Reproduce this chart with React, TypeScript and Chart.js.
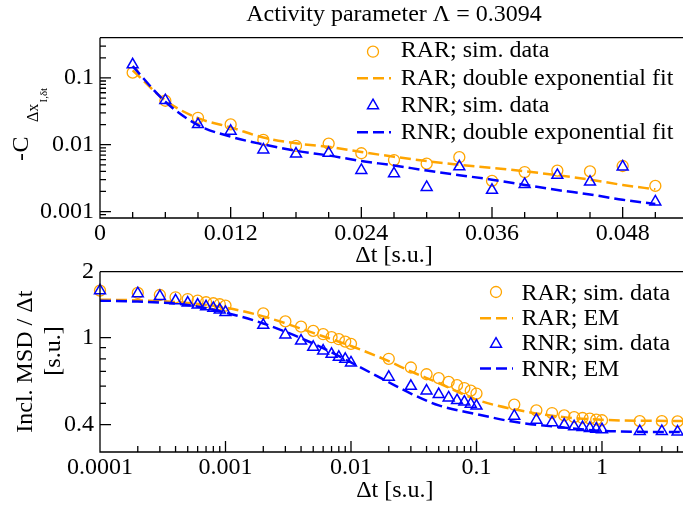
import React, { useEffect, useRef } from "react";
import { Chart, registerables } from "chart.js";

Chart.register(...registerables);

const FONT = "'Liberation Serif', 'Times New Roman', Times, serif";
const ORANGE = "#FFA500";
const BLUE = "#0000FF";

// ---------- top panel data ----------
const dtTop = [0.003, 0.006, 0.009, 0.012, 0.015, 0.018, 0.021, 0.024, 0.027, 0.03, 0.033, 0.036, 0.039, 0.042, 0.045, 0.048, 0.051];
const rarSimTop = [0.12, 0.0455, 0.0253, 0.0201, 0.0118, 0.0096, 0.0104, 0.00745, 0.0059, 0.0052, 0.0065, 0.00287, 0.0039, 0.0041, 0.004, 0.0048, 0.00242];
const rnrSimTop = [0.158, 0.046, 0.0201, 0.016, 0.0084, 0.0073, 0.0075, 0.00415, 0.0037, 0.00231, 0.0047, 0.00209, 0.00256, 0.0035, 0.00277, 0.00468, 0.0014];
const rarFitTop = [0.13, 0.046, 0.025, 0.0182, 0.0128, 0.0105, 0.0093, 0.0078, 0.0066, 0.0057, 0.005, 0.0045, 0.004, 0.0035, 0.003, 0.0025, 0.00215];
const rnrFitTop = [0.15, 0.044, 0.0197, 0.0132, 0.0101, 0.0081, 0.0069, 0.0057, 0.0049, 0.0041, 0.0035, 0.003, 0.0025, 0.0021, 0.0018, 0.0015, 0.0013];

const xMajorTop = [0, 0.012, 0.024, 0.036, 0.048];
const xLabelsTop = ["0", "0.012", "0.024", "0.036", "0.048"];
const xMinorTop = [0.003, 0.006, 0.009, 0.015, 0.018, 0.021, 0.027, 0.03, 0.033, 0.039, 0.042, 0.045, 0.051];
const yMajorTop = [0.001, 0.01, 0.1];
const yLabelsTop = ["0.001", "0.01", "0.1"];
const yMinorTop = [0.0009, 0.002, 0.003, 0.004, 0.005, 0.006, 0.007, 0.008, 0.009, 0.02, 0.03, 0.04, 0.05, 0.06, 0.07, 0.08, 0.09, 0.2, 0.3];

// ---------- bottom panel data ----------
const dtBottom = [
  0.0001, 0.0002, 0.0003, 0.0004, 0.0005, 0.0006, 0.0007, 0.0008, 0.0009, 0.001,
  0.002, 0.003, 0.004, 0.005, 0.006, 0.007, 0.008, 0.009, 0.01,
  0.02, 0.03, 0.04, 0.05, 0.06, 0.07, 0.08, 0.09, 0.1,
  0.2, 0.3, 0.4, 0.5, 0.6, 0.7, 0.8, 0.9, 1,
  2, 3, 4,
];
const rarSimBottom = [
  1.64, 1.6, 1.565, 1.528, 1.5, 1.475, 1.45, 1.435, 1.42, 1.4,
  1.29, 1.185, 1.122, 1.073, 1.036, 1.004, 0.983, 0.959, 0.936,
  0.8, 0.73, 0.68, 0.653, 0.627, 0.606, 0.588, 0.572, 0.555,
  0.494, 0.465, 0.452, 0.441, 0.433, 0.429, 0.426, 0.422, 0.419,
  0.415, 0.415, 0.414,
];
const rnrSimBottom = [
  1.64, 1.59, 1.545, 1.475, 1.44, 1.41, 1.385, 1.362, 1.338, 1.305,
  1.14, 1.03, 0.966, 0.904, 0.87, 0.84, 0.814, 0.797, 0.767,
  0.66, 0.6, 0.571, 0.55, 0.531, 0.516, 0.508, 0.497, 0.487,
  0.438, 0.42, 0.409, 0.399, 0.392, 0.389, 0.385, 0.382, 0.38,
  0.373, 0.373, 0.371,
];
const dtEM = [0.0001, 0.0002, 0.0005, 0.001, 0.002, 0.005, 0.01, 0.02, 0.03, 0.05, 0.1, 0.2, 0.5, 1, 2, 5];
const rarEM = [1.49, 1.48, 1.44, 1.37, 1.25, 1.05, 0.915, 0.78, 0.7, 0.62, 0.52, 0.47, 0.433, 0.421, 0.417, 0.416];
const rnrEM = [1.475, 1.46, 1.41, 1.3, 1.16, 0.94, 0.77, 0.625, 0.555, 0.49, 0.447, 0.412, 0.388, 0.375, 0.371, 0.37];

const xMajorBottom = [0.0001, 0.001, 0.01, 0.1, 1];
const xLabelsBottom = ["0.0001", "0.001", "0.01", "0.1", "1"];
const xMinorBottom = [
  0.0002, 0.0003, 0.0004, 0.0005, 0.0006, 0.0007, 0.0008, 0.0009,
  0.002, 0.003, 0.004, 0.005, 0.006, 0.007, 0.008, 0.009,
  0.02, 0.03, 0.04, 0.05, 0.06, 0.07, 0.08, 0.09,
  0.2, 0.3, 0.4, 0.5, 0.6, 0.7, 0.8, 0.9,
  2, 3, 4,
];
const yMajorBottom = [0.4, 1, 2];
const yLabelsBottom = ["0.4", "1", "2"];
const yMinorBottom = [0.5, 0.6, 0.7, 0.8, 0.9];

const DASH = [11, 5];

function pts(xs: number[], ys: number[]) {
  return xs.map((x, i) => ({ x, y: ys[i] }));
}

function labelFor(v: number, majors: number[], labels: string[], log: boolean) {
  for (let i = 0; i < majors.length; i++) {
    const m = majors[i];
    if (log ? Math.abs(Math.log10(v) - Math.log10(m)) < 1e-6 : Math.abs(v - m) < 1e-9) return labels[i];
  }
  return "";
}

function drawTri(ctx: CanvasRenderingContext2D, x: number, y: number, r: number) {
  ctx.beginPath();
  ctx.moveTo(x, y - r);
  ctx.lineTo(x + Math.sin((2 * Math.PI) / 3) * r, y + r / 2);
  ctx.lineTo(x - Math.sin((2 * Math.PI) / 3) * r, y + r / 2);
  ctx.closePath();
  ctx.stroke();
}

function drawRot(ctx: CanvasRenderingContext2D, text: string, X: number, Y: number, size: number, align: CanvasTextAlign, baseline: CanvasTextBaseline) {
  ctx.save();
  ctx.rotate(-Math.PI / 2);
  ctx.font = `${size}px ${FONT}`;
  ctx.textAlign = align;
  ctx.textBaseline = baseline;
  ctx.fillText(text, -Y, X);
  ctx.restore();
}

type LegendEntry = { kind: "circle" | "triangle" | "line"; color: string; text: string; y: number; ty: number };

function drawLegend(ctx: CanvasRenderingContext2D, entries: LegendEntry[], symX: number, l0: number, l1: number, textX: number, offY: number) {
  entries.forEach((e) => {
    ctx.save();
    ctx.strokeStyle = e.color;
    if (e.kind === "circle") {
      ctx.lineWidth = 1.3;
      ctx.beginPath();
      ctx.arc(symX, e.y - offY, 5.5, 0, Math.PI * 2);
      ctx.stroke();
    } else if (e.kind === "triangle") {
      ctx.lineWidth = 1.5;
      drawTri(ctx, symX, e.y - offY, 6.3);
    } else {
      ctx.lineWidth = 2.5;
      ctx.setLineDash(DASH);
      ctx.beginPath();
      ctx.moveTo(l0, e.y - offY);
      ctx.lineTo(l1, e.y - offY);
      ctx.stroke();
    }
    ctx.restore();
    ctx.save();
    ctx.fillStyle = "#000";
    ctx.font = `24px ${FONT}`;
    ctx.textAlign = "left";
    ctx.textBaseline = "alphabetic";
    ctx.fillText(e.text, textX, e.ty - offY);
    ctx.restore();
  });
}

function decoPlugin(
  xMajor: number[], xMinor: number[], yMajor: number[], yMinor: number[],
  extra: (ctx: CanvasRenderingContext2D, chart: any) => void
) {
  return {
    id: "deco",
    afterDraw(chart: any) {
      const ctx: CanvasRenderingContext2D = chart.ctx;
      const { left, right, top, bottom } = chart.chartArea;
      const xs = chart.scales.x;
      const ys = chart.scales.y;
      ctx.save();
      ctx.strokeStyle = "#000";
      ctx.lineWidth = 1.3;
      ctx.setLineDash([]);
      ctx.beginPath();
      ctx.moveTo(left, top);
      ctx.lineTo(right, top);
      ctx.moveTo(left, top);
      ctx.lineTo(left, bottom);
      ctx.lineTo(right, bottom);
      xMajor.forEach((v) => {
        const p = xs.getPixelForValue(v);
        ctx.moveTo(p, bottom);
        ctx.lineTo(p, bottom - 11);
      });
      xMinor.forEach((v) => {
        const p = xs.getPixelForValue(v);
        ctx.moveTo(p, bottom);
        ctx.lineTo(p, bottom - 6);
      });
      yMajor.forEach((v) => {
        const p = ys.getPixelForValue(v);
        ctx.moveTo(left, p);
        ctx.lineTo(left + 11, p);
      });
      yMinor.forEach((v) => {
        const p = ys.getPixelForValue(v);
        ctx.moveTo(left, p);
        ctx.lineTo(left + 6, p);
      });
      ctx.stroke();
      ctx.restore();
      ctx.save();
      ctx.fillStyle = "#000";
      extra(ctx, chart);
      ctx.restore();
    },
  };
}

const tickFont = { family: FONT, size: 24 };

function simSet(label: string, xs: number[], ys: number[], color: string, style: "circle" | "triangle", order: number) {
  return {
    label,
    data: pts(xs, ys),
    showLine: false,
    borderColor: color,
    backgroundColor: "rgba(0,0,0,0)",
    pointStyle: style,
    pointRadius: style === "circle" ? 5.5 : 6.3,
    pointBorderWidth: style === "circle" ? 1.3 : 1.5,
    pointBorderColor: color,
    pointBackgroundColor: "rgba(0,0,0,0)",
    clip: false,
    order,
  };
}

function lineSet(label: string, xs: number[], ys: number[], color: string, order: number) {
  return {
    label,
    data: pts(xs, ys),
    borderColor: color,
    borderWidth: 2.5,
    borderDash: DASH,
    pointRadius: 0,
    fill: false,
    cubicInterpolationMode: "monotone",
    clip: false,
    order,
  };
}

function topConfig(): any {
  return {
    type: "line",
    data: {
      datasets: [
        simSet("RAR; sim. data", dtTop, rarSimTop, ORANGE, "circle", 4),
        lineSet("RAR; double exponential fit", dtTop, rarFitTop, ORANGE, 3),
        simSet("RNR; sim. data", dtTop, rnrSimTop, BLUE, "triangle", 2),
        lineSet("RNR; double exponential fit", dtTop, rnrFitTop, BLUE, 1),
      ],
    },
    options: {
      animation: false,
      responsive: true,
      maintainAspectRatio: false,
      devicePixelRatio: 1,
      layout: { padding: { top: 37.7, right: 12, left: 0, bottom: 0 } },
      plugins: { legend: { display: false }, tooltip: { enabled: false }, title: { display: false } },
      scales: {
        x: {
          type: "linear",
          min: 0,
          max: 0.054,
          grid: { display: false, drawTicks: false },
          border: { display: false },
          ticks: {
            font: tickFont,
            color: "#000",
            padding: 1,
            autoSkip: false,
            maxRotation: 0,
            callback: (v: number) => labelFor(v, xMajorTop, xLabelsTop, false),
          },
          afterBuildTicks: (s: any) => {
            s.ticks = xMajorTop.map((v) => ({ value: v }));
          },
          afterFit: (s: any) => {
            s.height = 54;
            s.paddingLeft = 0;
            s.paddingRight = 0;
          },
        },
        y: {
          type: "logarithmic",
          min: 0.0008,
          max: 0.4,
          grid: { display: false, drawTicks: false },
          border: { display: false },
          ticks: {
            font: tickFont,
            color: "#000",
            padding: 6,
            autoSkip: false,
            callback: (v: number) => labelFor(v, yMajorTop, yLabelsTop, true),
          },
          afterBuildTicks: (s: any) => {
            s.ticks = yMajorTop.map((v) => ({ value: v }));
          },
          afterFit: (s: any) => {
            s.width = 100;
            s.paddingTop = 0;
            s.paddingBottom = 0;
          },
        },
      },
    },
    plugins: [
      decoPlugin(xMajorTop, xMinorTop, yMajorTop, yMinorTop, (ctx, chart) => {
        const { left, right } = chart.chartArea;
        const cx = (left + right) / 2;
        ctx.font = `24px ${FONT}`;
        ctx.textAlign = "center";
        ctx.textBaseline = "alphabetic";
        ctx.fillText("Activity parameter \u039B = 0.3094", cx, 20.7);
        ctx.fillText("\u0394t [s.u.]", cx, 261.5);
        // y title: - C_{Δx_{I,δt}}
        drawRot(ctx, "-", 28, 161, 24, "left", "alphabetic");
        drawRot(ctx, "C", 28, 152.5, 24, "left", "alphabetic");
        drawRot(ctx, "\u0394x", 38, 122, 16, "left", "alphabetic");
        drawRot(ctx, "I,\u03B4t", 47, 102.5, 11, "left", "alphabetic");
        drawLegend(
          ctx,
          [
            { kind: "circle", color: ORANGE, text: "RAR; sim. data", y: 51.7, ty: 57.3 },
            { kind: "line", color: ORANGE, text: "RAR; double exponential fit", y: 78.3, ty: 84.5 },
            { kind: "triangle", color: BLUE, text: "RNR; sim. data", y: 105.5, ty: 111.7 },
            { kind: "line", color: BLUE, text: "RNR; double exponential fit", y: 132.3, ty: 139 },
          ],
          373,
          357,
          391,
          400.7,
          0
        );
      }),
    ],
  };
}

function bottomConfig(): any {
  const OFF = 260;
  return {
    type: "line",
    data: {
      datasets: [
        simSet("RAR; sim. data", dtBottom, rarSimBottom, ORANGE, "circle", 4),
        lineSet("RAR; EM", dtEM, rarEM, ORANGE, 3),
        simSet("RNR; sim. data", dtBottom, rnrSimBottom, BLUE, "triangle", 2),
        lineSet("RNR; EM", dtEM, rnrEM, BLUE, 1),
      ],
    },
    options: {
      animation: false,
      responsive: true,
      maintainAspectRatio: false,
      devicePixelRatio: 1,
      layout: { padding: { top: 271.7 - OFF, right: 10.3, left: 0, bottom: 0 } },
      plugins: { legend: { display: false }, tooltip: { enabled: false }, title: { display: false } },
      scales: {
        x: {
          type: "logarithmic",
          min: 0.0001,
          max: 5,
          grid: { display: false, drawTicks: false },
          border: { display: false },
          ticks: {
            font: tickFont,
            color: "#000",
            padding: 1,
            autoSkip: false,
            maxRotation: 0,
            callback: (v: number) => labelFor(v, xMajorBottom, xLabelsBottom, true),
          },
          afterBuildTicks: (s: any) => {
            s.ticks = xMajorBottom.map((v) => ({ value: v }));
          },
          afterFit: (s: any) => {
            s.height = 246 - (452 - OFF);
            s.paddingLeft = 0;
            s.paddingRight = 0;
          },
        },
        y: {
          type: "logarithmic",
          min: 0.3,
          max: 2,
          grid: { display: false, drawTicks: false },
          border: { display: false },
          ticks: {
            font: tickFont,
            color: "#000",
            padding: 6,
            autoSkip: false,
            callback: (v: number) => labelFor(v, yMajorBottom, yLabelsBottom, true),
          },
          afterBuildTicks: (s: any) => {
            s.ticks = yMajorBottom.map((v) => ({ value: v }));
          },
          afterFit: (s: any) => {
            s.width = 100;
            s.paddingTop = 0;
            s.paddingBottom = 0;
          },
        },
      },
    },
    plugins: [
      decoPlugin(xMajorBottom, xMinorBottom, yMajorBottom, yMinorBottom, (ctx, chart) => {
        const { left, right } = chart.chartArea;
        const cx = (left + right) / 2;
        ctx.font = `24px ${FONT}`;
        ctx.textAlign = "center";
        ctx.textBaseline = "alphabetic";
        ctx.fillText("\u0394t [s.u.]", cx, 497 - OFF);
        drawRot(ctx, "Incl. MSD / \u0394t", 26, 361.7 - OFF, 24, "center", "middle");
        drawRot(ctx, "[s.u.]", 54, 351 - OFF, 24, "center", "middle");
        drawLegend(
          ctx,
          [
            { kind: "circle", color: ORANGE, text: "RAR; sim. data", y: 292, ty: 300 },
            { kind: "line", color: ORANGE, text: "RAR; EM", y: 318.3, ty: 325 },
            { kind: "triangle", color: BLUE, text: "RNR; sim. data", y: 344, ty: 350 },
            { kind: "line", color: BLUE, text: "RNR; EM", y: 368.5, ty: 375.5 },
          ],
          496,
          480,
          513,
          521.4,
          OFF
        );
      }),
    ],
  };
}

export default function App() {
  const topRef = useRef<HTMLCanvasElement>(null);
  const botRef = useRef<HTMLCanvasElement>(null);
  useEffect(() => {
    const c1 = new Chart(topRef.current as HTMLCanvasElement, topConfig());
    const c2 = new Chart(botRef.current as HTMLCanvasElement, bottomConfig());
    return () => {
      c1.destroy();
      c2.destroy();
    };
  }, []);
  return (
    <div style={{ position: "absolute", left: 0, top: 0, width: 683, height: 506, overflow: "hidden", background: "#fff" }}>
      <div style={{ position: "absolute", left: 0, top: 0, width: 700, height: 272 }}>
        <canvas ref={topRef} />
      </div>
      <div style={{ position: "absolute", left: 0, top: 260, width: 700, height: 246 }}>
        <canvas ref={botRef} />
      </div>
    </div>
  );
}
